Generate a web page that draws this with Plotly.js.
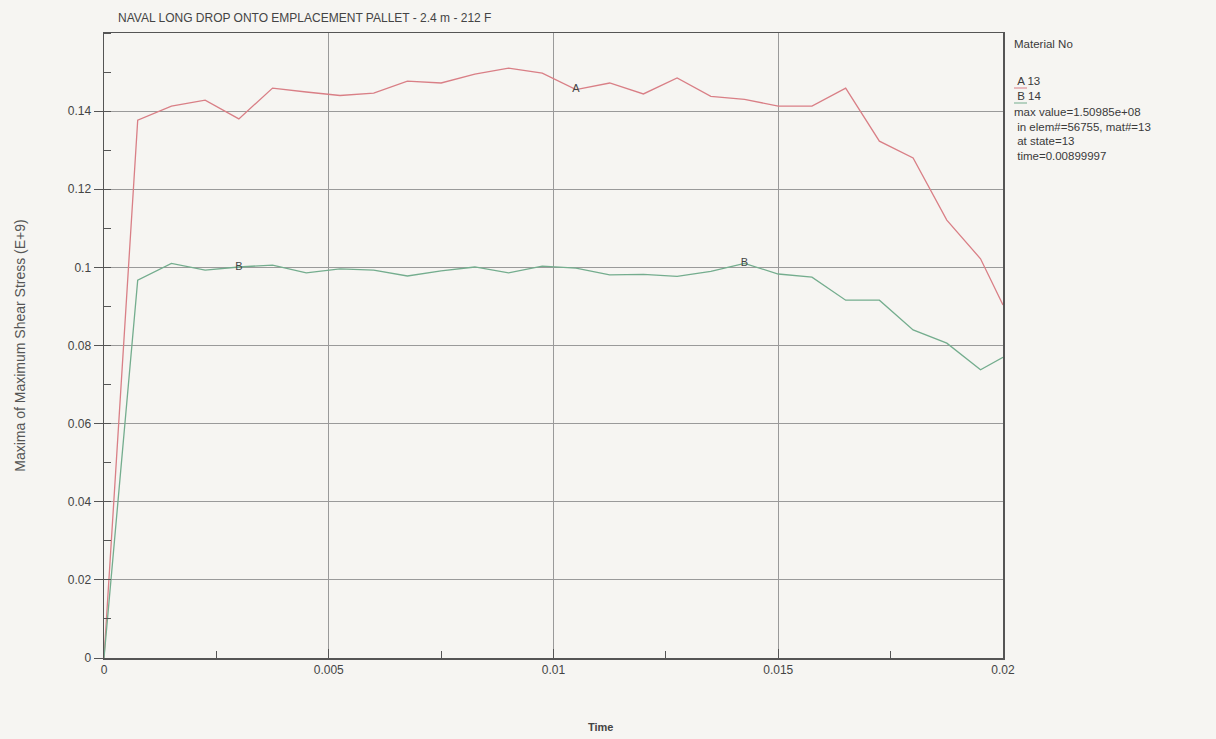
<!DOCTYPE html>
<html>
<head>
<meta charset="utf-8">
<script src="https://cdn.plot.ly/plotly-3.0.1.min.js"></script>
<style>html,body{margin:0;padding:0;background:#f6f5f2;}#chart{width:1216px;height:739px;}</style>
</head>
<body>
<div id="chart"></div>
<script>
// Time values (s)
const timeA = [0, 0.00075, 0.0015, 0.00225, 0.003, 0.00375, 0.0045, 0.00525, 0.006, 0.00675, 0.0075, 0.00825, 0.009, 0.00975, 0.0105, 0.01125, 0.012, 0.01275, 0.0135, 0.01425, 0.015, 0.01575, 0.0165, 0.01725, 0.018, 0.01875, 0.0195, 0.02];
// Material 13 (A)
const stressA = [0, 0.1377, 0.1413, 0.1428, 0.1380, 0.1459, 0.1449, 0.1440, 0.1446, 0.1477, 0.1472, 0.1495, 0.1510, 0.1497, 0.1455, 0.1472, 0.1444, 0.1485, 0.1438, 0.1430, 0.1413, 0.1413, 0.1459, 0.1323, 0.1280, 0.1121, 0.1022, 0.0904];
// Material 14 (B)
const stressB = [0, 0.0967, 0.1010, 0.0993, 0.1001, 0.1006, 0.0986, 0.0996, 0.0993, 0.0978, 0.0991, 0.1001, 0.0986, 0.1003, 0.0998, 0.0981, 0.0982, 0.0977, 0.0990, 0.1010, 0.0983, 0.0975, 0.0916, 0.0916, 0.0840, 0.0806, 0.0738, 0.0770];
// tick values
const yTicks = [0, 0.02, 0.04, 0.06, 0.08, 0.1, 0.12, 0.14];
const yTickText = ['0', '0.02', '0.04', '0.06', '0.08', '0.1', '0.12', '0.14'];
const xTicks = [0, 0.005, 0.01, 0.015, 0.02];
const xTickText = ['0', '0.005', '0.01', '0.015', '0.02'];
// curve label positions (point indices)
const labelIdxA = [14];
const labelIdxB = [4, 19];
const legendLines = ["Material No", " A 13", " B 14", "max value=1.50985e+08", " in elem#=56755, mat#=13", " at state=13", " time=0.00899997"];
const legendPy = [44, 81, 96, 112, 127, 141, 156];

const colA = '#d97f86';
const colB = '#74ad8e';
const fontMain = 'Liberation Sans Narrow, Liberation Sans, Arial, sans-serif';
const fontSans = 'Liberation Sans, Arial, sans-serif';

function labels(n, idx, ch){ const t = new Array(n).fill(''); idx.forEach(i=>t[i]=ch); return t; }

const traces = [
  {x: timeA, y: stressA, mode: 'lines+text', line: {color: colA, width: 1.3},
   text: labels(timeA.length, labelIdxA, 'A'), textposition: 'middle center',
   textfont: {family: fontSans, size: 11, color: '#444'}, showlegend: false, hoverinfo: 'x+y'},
  {x: timeA, y: stressB, mode: 'lines+text', line: {color: colB, width: 1.3},
   text: labels(timeA.length, labelIdxB, 'B'), textposition: 'middle center',
   textfont: {family: fontSans, size: 11, color: '#444'}, showlegend: false, hoverinfo: 'x+y'}
];

const px = v => (v - 104) / 899;
const py = v => 1 - (v - 33) / 625;

const annotations = [];
legendLines.forEach((s, i) => {
  annotations.push({xref: 'paper', yref: 'paper', x: px(1012), y: py(legendPy[i]),
    xanchor: 'left', yanchor: 'middle', showarrow: false, align: 'left',
    text: s.replace(/^ /, '&nbsp;'), font: {family: fontSans, size: 11.5, color: '#3a3a3a'}});
});
annotations.push({xref: 'paper', yref: 'paper', x: px(600), y: py(727), xanchor: 'center', yanchor: 'middle',
  showarrow: false, text: '<b>Time</b>', font: {family: fontSans, size: 11, color: '#444'}});

const shapes = [
  {type: 'line', xref: 'paper', yref: 'paper', x0: px(1014), x1: px(1027), y0: py(88), y1: py(88), line: {color: colA, width: 1}},
  {type: 'line', xref: 'paper', yref: 'paper', x0: px(1014), x1: px(1027), y0: py(103), y1: py(103), line: {color: colB, width: 1}}
];

const layout = {
  width: 1216, height: 739,
  paper_bgcolor: '#f6f5f2', plot_bgcolor: '#f6f5f2',
  margin: {l: 104, r: 213, t: 33, b: 81},
  title: {text: 'NAVAL LONG DROP ONTO EMPLACEMENT PALLET - 2.4 m - 212 F', xref: 'container', yref: 'container',
    x: 118/1216, xanchor: 'left', y: 1 - 18/739, yanchor: 'middle',
    font: {family: fontMain, size: 12, color: '#444'}},
  xaxis: {range: [0, 0.02], tickvals: xTicks, ticktext: xTickText, showgrid: true, gridcolor: '#9a9a9a', gridwidth: 1,
    zeroline: false, showline: true, linecolor: '#555', linewidth: 1.5, mirror: true,
    ticks: 'inside', ticklen: 9, tickcolor: '#555',
    minor: {dtick: 0.0025, tick0: 0, ticks: 'inside', ticklen: 7, tickcolor: '#555', showgrid: false},
    tickfont: {family: fontMain, size: 12, color: '#444'}},
  yaxis: {range: [0, 0.16], tickvals: yTicks, ticktext: yTickText, showgrid: true, gridcolor: '#9a9a9a', gridwidth: 1,
    zeroline: false, showline: true, linecolor: '#555', linewidth: 1.5, mirror: true,
    ticks: 'outside', ticklen: 9, tickcolor: '#555',
    minor: {dtick: 0.01, tick0: 0, ticks: 'inside', ticklen: 7, tickcolor: '#555', showgrid: false},
    tickfont: {family: fontSans, size: 12, color: '#444'},
    title: {text: 'Maxima of Maximum Shear Stress (E+9)', standoff: 39,
      font: {family: fontSans, size: 14, color: '#555'}}},
  annotations: annotations,
  shapes: shapes,
  showlegend: false
};

Plotly.newPlot('chart', traces, layout, {displayModeBar: false, staticPlot: true});
</script>
</body>
</html>
